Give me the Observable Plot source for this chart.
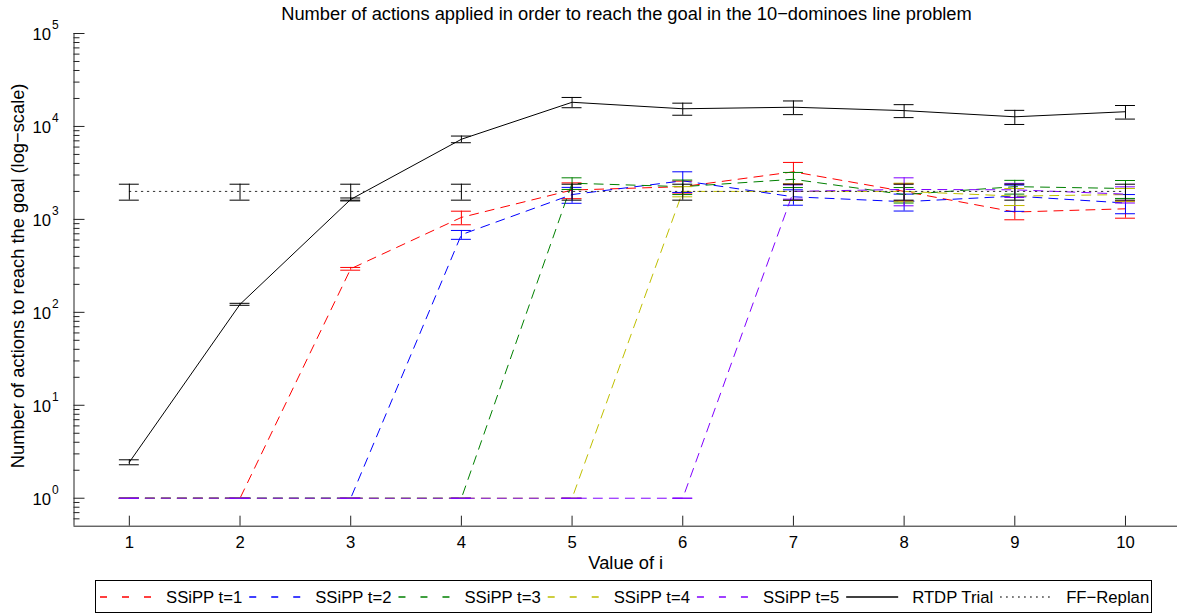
<!DOCTYPE html>
<html><head><meta charset="utf-8">
<script src="https://cdn.jsdelivr.net/npm/d3@7"></script>
<script src="https://cdn.jsdelivr.net/npm/@observablehq/plot@0.6"></script>
<style>
body{margin:0;background:#fff;font-family:"Liberation Sans",Arial,sans-serif;color:#000;}
#wrap{position:relative;width:1177px;height:615px;overflow:hidden;background:#fff;}
#title{position:absolute;left:73px;width:1107px;top:3px;text-align:center;font-size:18.3px;line-height:22px;white-space:nowrap;}
#chart{position:absolute;left:0;top:26px;}
#legend{position:absolute;left:95px;top:580px;height:33px;border:1px solid #000;box-sizing:border-box;background:#fff;}
#legend svg{position:absolute;left:0;top:0;}
</style></head><body>
<div id="wrap"><div id="title"></div><div id="chart"></div><div id="legend"></div></div>
<script>
// ---- data ----
const steps = [1, 2, 3, 4, 5, 6, 7, 8, 9, 10];
const ssipp1 = [1, 1, 294, 1050, 2070, 2250, 3250, 2000, 1200, 1300];
const ssipp1Err = [0, 0, 10, 175, 400, 330, 850, 420, 210, 270];
const ssipp2 = [1, 1, 1, 685, 1850, 2600, 1750, 1550, 1780, 1500];
const ssipp2Err = [0, 0, 0, 75, 360, 650, 330, 320, 560, 350];
const ssipp3 = [1, 1, 1, 1, 2450, 2250, 2700, 1850, 2250, 2150];
const ssipp3Err = [0, 0, 0, 0, 350, 400, 500, 350, 380, 470];
const ssipp4 = [1, 1, 1, 1, 1, 2000, 2000, 2000, 1780, 1850];
const ssipp4Err = [0, 0, 0, 0, 0, 250, 400, 450, 370, 300];
const ssipp5 = [1, 1, 1, 1, 1, 1, 2000, 2100, 2080, 1870];
const ssipp5Err = [0, 0, 0, 0, 0, 0, 350, 700, 360, 370];
const rtdp = [2.44, 122, 1640, 7280, 18200, 15500, 16100, 14800, 12700, 14400];
const rtdpErr = [0.15, 3, 60, 600, 2300, 2300, 2700, 2350, 2200, 2400];
const ffReplan = [2000, 2000, 2000, 2000, 2000, 2000, 2000, 2000, 2000, 2000];
const ffReplanErr = [390, 390, 390, 390, 390, 390, 390, 390, 390, 390];

const seriesNames = ["SSiPP t=1", "SSiPP t=2", "SSiPP t=3", "SSiPP t=4", "SSiPP t=5", "RTDP Trial", "FF\u2212Replan"];
const seriesColors = ["#ff0000", "#0000ff", "#008000", "#bfbf00", "#8000ff", "#000000", "#333333"];
const seriesDash = ["9,7", "9,7", "9,7", "9,7", "9,7", null, "1.5,4.5"];
const seriesValues = [ssipp1, ssipp2, ssipp3, ssipp4, ssipp5, rtdp, ffReplan];
const seriesErrors = [ssipp1Err, ssipp2Err, ssipp3Err, ssipp4Err, ssipp5Err, rtdpErr, ffReplanErr];
const barColors = ["#ff0000", "#0000ff", "#008000", "#bfbf00", "#8000ff", "#000000", "#000000"];

const xTicks = [1, 2, 3, 4, 5, 6, 7, 8, 9, 10];
const yMajorTicks = [1, 10, 100, 1000, 10000, 100000];
const yMinorTicks = [0.6, 0.7, 0.8, 0.9].concat(...[1, 10, 100, 1000, 10000].map(b => [2,3,4,5,6,7,8,9].map(m => m * b)));

const titleText = "Number of actions applied in order to reach the goal in the 10\u2212dominoes line problem";
const xLabel = "Value of i";
const yLabel = "Number of actions to reach the goal (log\u2212scale)";

// ---- layout ----
const W = 1177, H = 552, mL = 73.5, mR = 0, mT = 7, mB = 52.3;
const plotW = W - mL - mR, plotH = H - mT - mB;
const xDomain = [0.5, 10.47], yDomain = [0.5, 100000];
const capHalf = 0.09;
const font = "Liberation Sans, Arial, sans-serif";
const tickFont = 16.7, labelFont = 18.3;

const marks = [];
seriesNames.forEach((name, k) => {
  const rows = steps.map((s, j) => ({i: s, v: seriesValues[k][j], e: seriesErrors[k][j]}));
  marks.push(Plot.line(rows, {x: "i", y: "v", stroke: seriesColors[k], strokeWidth: 1, strokeDasharray: seriesDash[k] || undefined}));
  marks.push(Plot.ruleX(rows, {x: "i", y1: d => d.v + d.e, y2: d => d.v - d.e, stroke: barColors[k], strokeWidth: 1}));
  marks.push(Plot.ruleY(rows, {y: d => d.v - d.e, x1: d => d.i - capHalf, x2: d => d.i + capHalf, stroke: barColors[k], strokeWidth: 1}));
  marks.push(Plot.ruleY(rows, {y: d => d.v + d.e, x1: d => d.i - capHalf, x2: d => d.i + capHalf, stroke: barColors[k], strokeWidth: 1}));
});

// axes
const axisColor = "#222";
marks.push(Plot.ruleX([xDomain[0]], {y1: yDomain[1], y2: yDomain[0], stroke: axisColor}));
marks.push(Plot.ruleY([yDomain[0]], {x1: xDomain[0], x2: xDomain[1], stroke: axisColor}));
marks.push(Plot.ruleX(xTicks, {x: d => d, y1: yDomain[1], y2: yDomain[0], insetTop: plotH - 10, stroke: axisColor}));
marks.push(Plot.ruleY(yMajorTicks, {y: d => d, x1: xDomain[0], x2: xDomain[1], insetRight: plotW - 11, stroke: axisColor}));
marks.push(Plot.ruleY(yMinorTicks, {y: d => d, x1: xDomain[0], x2: xDomain[1], insetRight: plotW - 6, stroke: axisColor}));
marks.push(Plot.text(xTicks, {x: d => d, frameAnchor: "bottom", text: d => String(d), textAnchor: "middle", lineAnchor: "middle", dy: 16, fontSize: tickFont, fontFamily: font, fill: "#000"}));
marks.push(Plot.text(yMajorTicks, {y: d => d, frameAnchor: "left", text: () => "10", textAnchor: "end", lineAnchor: "middle", dx: -23, dy: 1, fontSize: tickFont, fontFamily: font, fill: "#000"}));
marks.push(Plot.text(yMajorTicks, {y: d => d, frameAnchor: "left", text: d => String(Math.round(Math.log10(d))), textAnchor: "start", lineAnchor: "middle", dx: -22, dy: -8, fontSize: 12, fontFamily: font, fill: "#000"}));
marks.push(Plot.text([xLabel], {frameAnchor: "bottom", text: d => d, textAnchor: "middle", lineAnchor: "middle", dy: 37, fontSize: labelFont, fontFamily: font, fill: "#000"}));
marks.push(Plot.text([yLabel], {frameAnchor: "left", text: d => d, textAnchor: "middle", lineAnchor: "middle", rotate: -90, dx: -56, dy: -4, fontSize: labelFont, fontFamily: font, fill: "#000"}));

const chart = Plot.plot({
  width: W, height: H,
  marginLeft: mL, marginRight: mR, marginTop: mT, marginBottom: mB,
  x: {domain: xDomain, axis: null},
  y: {type: "log", domain: yDomain, axis: null},
  style: {fontFamily: font, background: "white", overflow: "visible"},
  marks
});
document.getElementById("chart").appendChild(chart);
document.getElementById("title").textContent = titleText;

// ---- legend ----
const legendDiv = d3.select("#legend");
const legend = legendDiv.append("svg").attr("width", 1100).attr("height", 33);
const padA = 7, sampleL = 52, padB = 14;
let cursor = 4;
seriesNames.forEach((name, k) => {
  const x0 = cursor;
  legend.append("line").attr("x1", x0).attr("x2", x0 + sampleL).attr("y1", 16).attr("y2", 16)
    .attr("stroke", seriesColors[k]).attr("stroke-width", 1.3)
    .attr("stroke-dasharray", seriesDash[k] ? (k < 5 ? "7,15" : "1.5,4.5") : null);
  const t = legend.append("text").attr("x", x0 + sampleL + padB).attr("y", 22.3).attr("font-size", tickFont)
    .attr("font-family", font).text(name);
  const w = t.node().getComputedTextLength();
  cursor = x0 + sampleL + padB + w + padA;
});
const boxW = Math.ceil(cursor - padA + 3);
legendDiv.style("width", boxW + "px");
legend.attr("width", boxW);
</script>
</body></html>
